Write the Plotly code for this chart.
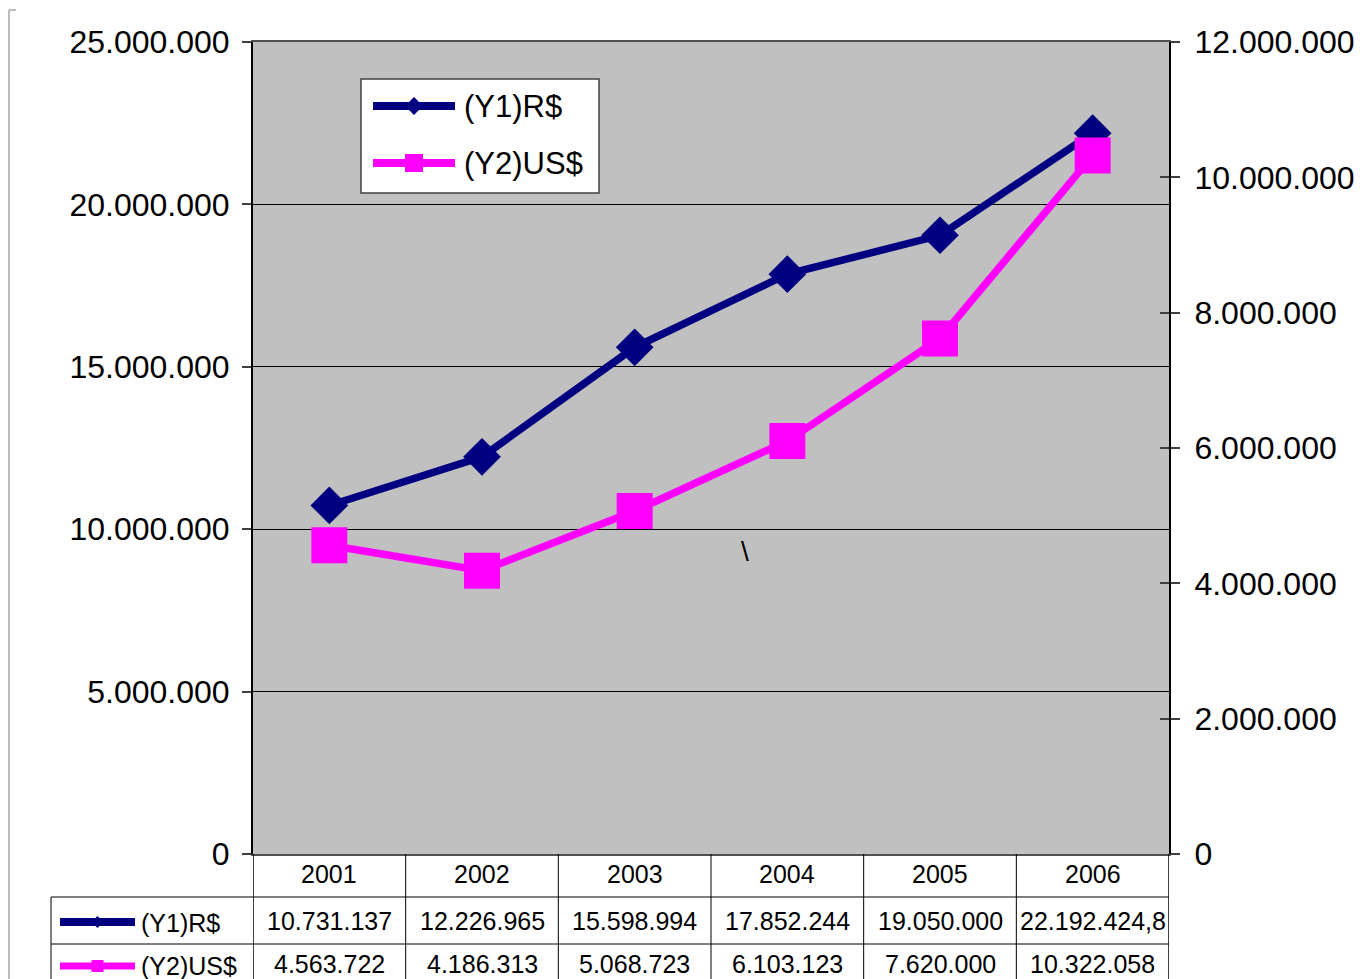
import plotly.graph_objects as go

W, H = 1362, 979

# ---- data -------------------------------------------------------------
years = ["2001", "2002", "2003", "2004", "2005", "2006"]
brl = [10731137, 12226965, 15598994, 17852244, 19050000, 22192424.8]
usd = [4563722, 4186313, 5068723, 6103123, 7620000, 10322058]
series_names = ["(Y1)R$", "(Y2)US$"]
left_ticks = [0, 5000000, 10000000, 15000000, 20000000, 25000000]
right_ticks = [0, 2000000, 4000000, 6000000, 8000000, 10000000, 12000000]

# ---- style ------------------------------------------------------------
NAVY = "#000080"
MAGENTA = "#FF00FF"
PLOT_BG = "#C0C0C0"
FONT = "Liberation Sans, Arial, sans-serif"


def px(x):
    return x / W


def py(y):
    return 1 - y / H


def fmt(v):
    """Brazilian-style number: '.' thousands, ',' decimals."""
    if float(v).is_integer():
        return f"{int(v):,}".replace(",", ".")
    whole, dec = f"{v:,.1f}".split(".")
    return whole.replace(",", ".") + "," + dec


fig = go.Figure()

fig.add_trace(go.Scatter(
    x=years, y=brl, name=series_names[0], mode="lines+markers",
    line=dict(color=NAVY, width=7.5),
    marker=dict(symbol="diamond", size=29, color=NAVY),
    yaxis="y", showlegend=False, hoverinfo="x+y",
))
fig.add_trace(go.Scatter(
    x=years, y=usd, name=series_names[1], mode="lines+markers",
    line=dict(color=MAGENTA, width=7.5),
    marker=dict(symbol="square", size=36, color=MAGENTA),
    yaxis="y2", showlegend=False, hoverinfo="x+y",
))
# carrier trace for the inner tick marks of the right axis
fig.add_trace(go.Scatter(x=[years[0]], y=[None], yaxis="y3",
                         showlegend=False, hoverinfo="skip"))

shapes = []
annotations = []

# outer chart frame corner
shapes.append(dict(type="line", xref="paper", yref="paper",
                   x0=px(9), x1=px(9), y0=py(10), y1=py(979),
                   line=dict(color="#A8A8A8", width=1.5)))
shapes.append(dict(type="line", xref="paper", yref="paper",
                   x0=px(9), x1=px(16), y0=py(10), y1=py(10),
                   line=dict(color="#A8A8A8", width=1.5)))

# ---- legend box -------------------------------------------------------
shapes.append(dict(type="rect", xref="paper", yref="paper",
                   x0=px(361), x1=px(599), y0=py(79), y1=py(193),
                   fillcolor="white", line=dict(color="#404040", width=1.5),
                   layer="above"))


def diamond(cx, cy, r):
    return (f"M {px(cx - r)},{py(cy)} L {px(cx)},{py(cy - r)} "
            f"L {px(cx + r)},{py(cy)} L {px(cx)},{py(cy + r)} Z")


def square(cx, cy, r):
    return (f"M {px(cx - r)},{py(cy - r)} L {px(cx + r)},{py(cy - r)} "
            f"L {px(cx + r)},{py(cy + r)} L {px(cx - r)},{py(cy + r)} Z")


def key(x0, x1, cy, color, lw, sym, r):
    shapes.append(dict(type="line", xref="paper", yref="paper",
                       x0=px(x0), x1=px(x1), y0=py(cy), y1=py(cy),
                       line=dict(color=color, width=lw), layer="above"))
    path = diamond((x0 + x1) / 2, cy, r) if sym == "diamond" else square((x0 + x1) / 2, cy, r)
    shapes.append(dict(type="path", xref="paper", yref="paper", path=path,
                       fillcolor=color, line=dict(color=color, width=0),
                       layer="above"))


key(373, 455, 106, NAVY, 8, "diamond", 9)
key(373, 455, 163, MAGENTA, 8, "square", 9)
for name, cy in zip(series_names, [106, 163]):
    annotations.append(dict(text=name, xref="paper", yref="paper",
                            x=px(462), y=py(cy), xanchor="left", yanchor="middle",
                            showarrow=False, font=dict(size=31, color="black", family=FONT)))

# ---- data table -------------------------------------------------------
TABLE_LINE = dict(color="black", width=1)
for yy in (897, 944):
    shapes.append(dict(type="line", xref="paper", yref="paper",
                       x0=px(51), x1=px(1169), y0=py(yy), y1=py(yy), line=TABLE_LINE))
shapes.append(dict(type="line", xref="paper", yref="paper",
                   x0=px(51), x1=px(51), y0=py(897), y1=py(979), line=TABLE_LINE))
for i in range(len(years) + 1):
    shapes.append(dict(type="line", xref="x", yref="paper",
                       x0=i - 0.5, x1=i - 0.5, y0=py(854), y1=py(979),
                       line=dict(color="black", width=1.5 if i in (0, len(years)) else 1)))

key(60, 135, 922, NAVY, 8, "diamond", 6)
key(60, 135, 966, MAGENTA, 7, "square", 6)
for name, cy in zip(series_names, [923, 966]):
    annotations.append(dict(text=name, xref="paper", yref="paper",
                            x=px(139), y=py(cy), xanchor="left", yanchor="middle",
                            showarrow=False, font=dict(size=25, color="black", family=FONT)))

# column cells are placed by category index on the x axis
for i, (yr, a, b) in enumerate(zip(years, brl, usd)):
    for text, cy in ((yr, 874), (fmt(a), 921), (fmt(b), 964)):
        annotations.append(dict(text=text, xref="x", yref="paper", x=i, y=py(cy),
                                xanchor="center", yanchor="middle", showarrow=False,
                                font=dict(size=25, color="black", family=FONT)))

# stray backslash inside the plot area
annotations.append(dict(text="\\", xref="paper", yref="paper", x=px(745), y=py(551),
                        xanchor="center", yanchor="middle", showarrow=False,
                        font=dict(size=28, color="black", family=FONT)))

y_dom = [py(854), py(42)]
tickfont = dict(size=32, color="black", family=FONT)

fig.update_layout(
    width=W, height=H, autosize=False,
    margin=dict(l=0, r=0, t=0, b=0, pad=0),
    paper_bgcolor="white", plot_bgcolor=PLOT_BG,
    separators=",.",
    font=dict(family=FONT, color="black"),
    showlegend=False,
    xaxis=dict(domain=[px(253), px(1169)], type="category",
               categoryorder="array", categoryarray=years,
               range=[-0.5, len(years) - 0.5], showticklabels=False, ticks="",
               showgrid=False, zeroline=False, showline=True, mirror=True,
               linecolor="#505050", linewidth=2, fixedrange=True, automargin=False),
    yaxis=dict(domain=y_dom, range=[0, 25000000], tickvals=left_ticks,
               tickformat=",d", ticks="outside", ticklen=9, tickwidth=1.5,
               tickcolor="#404040", showgrid=True, gridcolor="black", gridwidth=1,
               zeroline=False, showline=True, linecolor="black", linewidth=2,
               tickfont=tickfont, ticklabelstandoff=6, fixedrange=True,
               automargin=False),
    yaxis2=dict(domain=y_dom, overlaying="y", side="right", anchor="x",
                range=[0, 12000000], tickvals=right_ticks, tickformat=",d",
                ticks="outside", ticklen=9, tickwidth=1.5, tickcolor="#404040",
                showgrid=False, zeroline=False, showline=True, linecolor="black",
                linewidth=2, tickfont=tickfont, ticklabelstandoff=8, fixedrange=True,
                automargin=False),
    yaxis3=dict(domain=y_dom, overlaying="y", side="right", anchor="x",
                range=[0, 12000000], tickvals=right_ticks, ticks="inside",
                ticklen=9, tickwidth=1.5, tickcolor="#404040", showticklabels=False,
                showgrid=False, zeroline=False, showline=False, fixedrange=True,
                automargin=False),
    shapes=shapes,
    annotations=annotations,
)

fig.write_html("out.html", config={"responsive": False})
